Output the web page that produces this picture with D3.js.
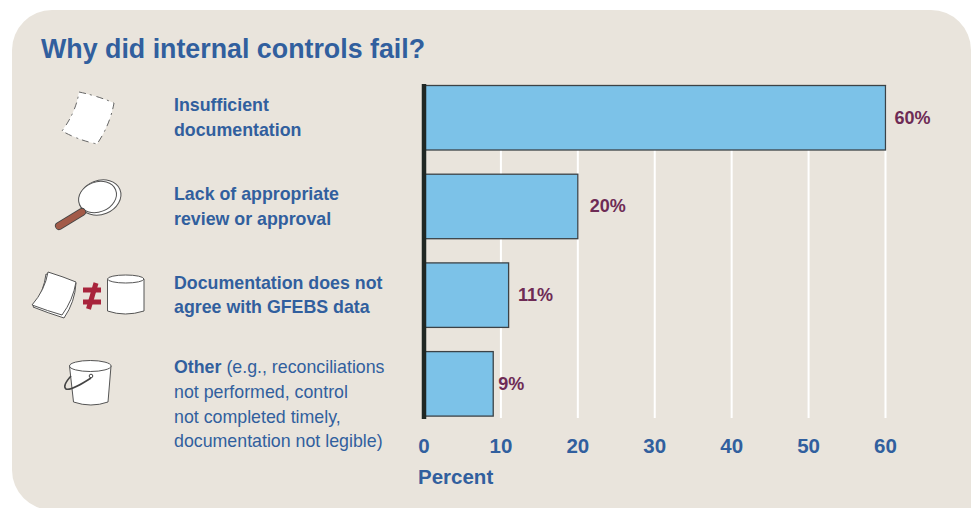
<!DOCTYPE html>
<html><head><meta charset="utf-8">
<script src="https://cdn.jsdelivr.net/npm/d3@7"></script>
<style>html,body{margin:0;padding:0;background:#fff}svg{display:block}text{font-family:"Liberation Sans",Arial,sans-serif}</style>
</head><body><svg id="c" width="974" height="508"></svg>
<script>
const title = "Why did internal controls fail?";
const categories = ["Insufficient documentation","Lack of appropriate review or approval","Documentation does not agree with GFEBS data","Other"];
const values = [60,20,11,9];
const valueLabels = ["60%","20%","11%","9%"];
const ticks = [0,10,20,30,40,50,60];
const axisTitle = "Percent";
const labelLines = [
 [[["Insufficient",1]],[["documentation",1]]],
 [[["Lack of appropriate",1]],[["review or approval",1]]],
 [[["Documentation does not",1]],[["agree with GFEBS data",1]]],
 [[["Other",1],[" (e.g., reconciliations",0]],[["not performed, control",0]],[["not completed timely,",0]],[["documentation not legible)",0]]]
];
const labelY = [[111,136],[200,225],[289,313],[373,398,423,447]];

const blue="#315f9e", plum="#6e2b55", bg="#e9e4dc";
const svg=d3.select("#c");
svg.append("path").attr("fill",bg)
  .attr("d","M52 10H931A40 40 0 0 1 971 50V530H12V50A40 40 0 0 1 52 10Z");
svg.append("path").attr("fill","#fff").attr("d","M12 470A40 40 0 0 0 52 510H12Z");
svg.append("text").text(title).attr("x",41).attr("y",58).attr("fill",blue)
  .attr("font-size",26.8).attr("font-weight",700);

const x=d3.scaleLinear().domain([0,60]).range([424,885.5]);
const y=d3.scaleBand().domain(categories).range([85.5,416.1]).paddingInner(0.2728).paddingOuter(0);
const bw=y.bandwidth(), yPos=d=>y(d);

// grid
svg.append("g").selectAll("line").data(ticks.slice(1)).join("line")
  .attr("x1",d=>x(d)).attr("x2",d=>x(d)).attr("y1",86).attr("y2",418)
  .attr("stroke","#fff").attr("stroke-width",2);

// bars
svg.append("g").selectAll("rect").data(categories).join("rect")
  .attr("x",x(0)).attr("y",d=>yPos(d)).attr("height",bw)
  .attr("width",(d,i)=>x(values[i])-x(0))
  .attr("fill","#7cc2e8").attr("stroke","#3c4246").attr("stroke-width",1.3);

// value labels
svg.append("g").selectAll("text").data(categories).join("text")
  .attr("x",(d,i)=>x(values[i])+[9,12,9.5,5][i])
  .attr("y",d=>yPos(d)+bw/2+6)
  .attr("fill",plum).attr("font-size",18).attr("font-weight",700)
  .text((d,i)=>valueLabels[i]);

// axis
const ax=svg.append("g").attr("transform","translate(-0.5,418)")
  .call(d3.axisBottom(x).tickValues(ticks).tickSize(0).tickPadding(16));
ax.select(".domain").remove();
ax.selectAll("text").attr("fill",blue).attr("font-size",20.5).attr("font-weight",700)
  .attr("font-family",'"Liberation Sans",Arial,sans-serif').attr("dy",0).attr("y",34.5);
svg.append("line").attr("x1",x(0)).attr("x2",x(0)).attr("y1",84).attr("y2",419)
  .attr("stroke","#1f2724").attr("stroke-width",4.5);
svg.append("text").text(axisTitle).attr("x",418).attr("y",484).attr("fill",blue)
  .attr("font-size",20.5).attr("font-weight",700);

// category labels
const lab=svg.append("g");
labelLines.forEach((lines,i)=>lines.forEach((runs,j)=>{
  const t=lab.append("text").attr("x",174).attr("y",labelY[i][j]).attr("fill",blue).attr("font-size",17.8)
     .style("white-space","pre");
  runs.forEach(r=>t.append("tspan").text(r[0]).attr("font-weight",r[1]?700:400));
}));

// icons
const ic=svg.append("g").attr("fill","#fff").attr("stroke","#555").attr("stroke-width",1);
ic.append("path").attr("d","M79 92Q98 96 114 103Q110 125 97 144Q78 140 62 131Q76 112 79 92Z")
  .attr("stroke-dasharray","7 4 2 5").attr("stroke","#666");
svg.append("line").attr("x1",59).attr("y1",226).attr("x2",82).attr("y2",212)
  .attr("stroke","#444").attr("stroke-width",8).attr("stroke-linecap","round");
svg.append("line").attr("x1",59).attr("y1",226).attr("x2",82).attr("y2",212)
  .attr("stroke","#a25a48").attr("stroke-width",6.4).attr("stroke-linecap","round");
ic.append("ellipse").attr("cx",100).attr("cy",197.5).attr("rx",21.5).attr("ry",17).attr("transform","rotate(-22 100 197.5)");
ic.append("ellipse").attr("cx",97.5).attr("cy",197).attr("rx",19.5).attr("ry",15).attr("transform","rotate(-22 97.5 197)");
ic.append("path").attr("d","M46 274Q62 279 76 283Q75 302 64 318Q48 313 33 307Q44 291 46 274Z");
ic.append("path").attr("d","M48 272Q64 277 76 282Q73 300 62 315Q48 311 32 305Q45 290 48 272Z");
const neq=svg.append("g").attr("stroke","#a8243c").attr("fill","none");
neq.append("line").attr("x1",83).attr("x2",101).attr("y1",290).attr("y2",290).attr("stroke-width",5);
neq.append("line").attr("x1",83).attr("x2",101).attr("y1",302).attr("y2",302).attr("stroke-width",5);
neq.append("line").attr("x1",96).attr("x2",88.5).attr("y1",283).attr("y2",309).attr("stroke-width",5);
ic.append("path").attr("d","M107.5 279V311Q125 317 144 311V279Z");
ic.append("ellipse").attr("cx",125.7).attr("cy",279).attr("rx",18.2).attr("ry",4);
ic.append("path").attr("d","M69.5 366L73.5 402Q91 408 108 402L111 366Z");
ic.append("ellipse").attr("cx",90.3).attr("cy",366).attr("rx",20.8).attr("ry",5.5);
svg.append("path").attr("d","M71 376Q62 386 66 389Q71 391 91 378").attr("fill","none").attr("stroke","#444").attr("stroke-width",1.6);
svg.append("circle").attr("cx",91).attr("cy",376).attr("r",1.8).attr("fill","none").attr("stroke","#444");
</script></body></html>
